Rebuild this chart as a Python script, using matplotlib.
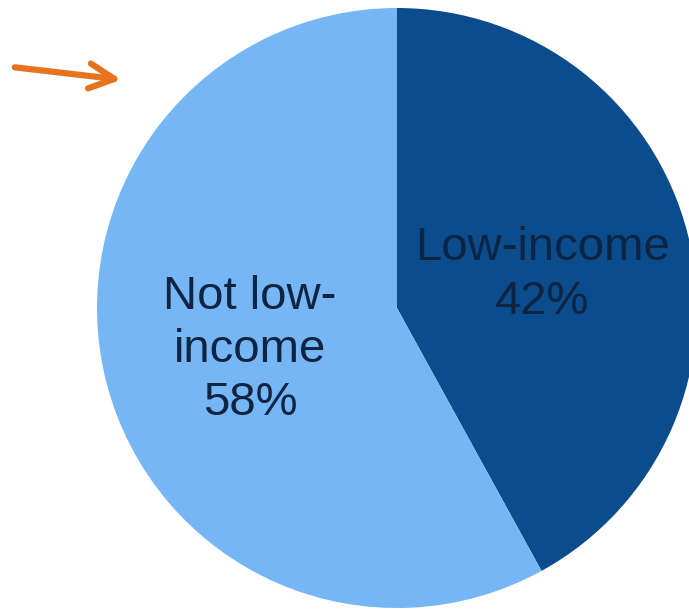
import matplotlib.pyplot as plt

labels = ["Low-income\n42%", "Not low-\nincome\n58%"]
shares = [42, 58]
colors = ["#0A4C8C", "#77B6F5"]

fig = plt.figure(figsize=(6.89, 6.10), dpi=100)
plt.rcParams['font.family'] = ['Liberation Sans', 'DejaVu Sans']

# pie axes: circle centre ~ (397, 308) px, radius ~ 300 px
W, H = 689, 610
ax = fig.add_axes([97 / W, 2 / H, 600 / W, 600 / H])
wedges, texts = ax.pie(shares, colors=colors, startangle=90, counterclock=False,
                       radius=1, labels=labels, labeldistance=None)
ax.set_xlim(-1, 1)
ax.set_ylim(-1, 1)
ax.set_aspect('equal')
ax.axis('off')

# slice labels
ax.text(0.485, 0.11, labels[0], ha='center', va='center', fontsize=34,
        color='#0E2443', linespacing=1.27)
ax.text(-0.49, -0.14, labels[1], ha='center', va='center', fontsize=34,
        color='#0E2443', linespacing=1.27)

# orange arrow in the top left
fig.patches.append(plt.matplotlib.patches.FancyArrowPatch(
    (12 / W, 1 - 67 / H), (124 / W, 1 - 80 / H), transform=fig.transFigure,
    arrowstyle='->,head_length=18,head_width=9', color='#E8731E', lw=4.5,
    mutation_scale=1, capstyle='round', joinstyle='round'))

fig.savefig("out.png", dpi=100)
